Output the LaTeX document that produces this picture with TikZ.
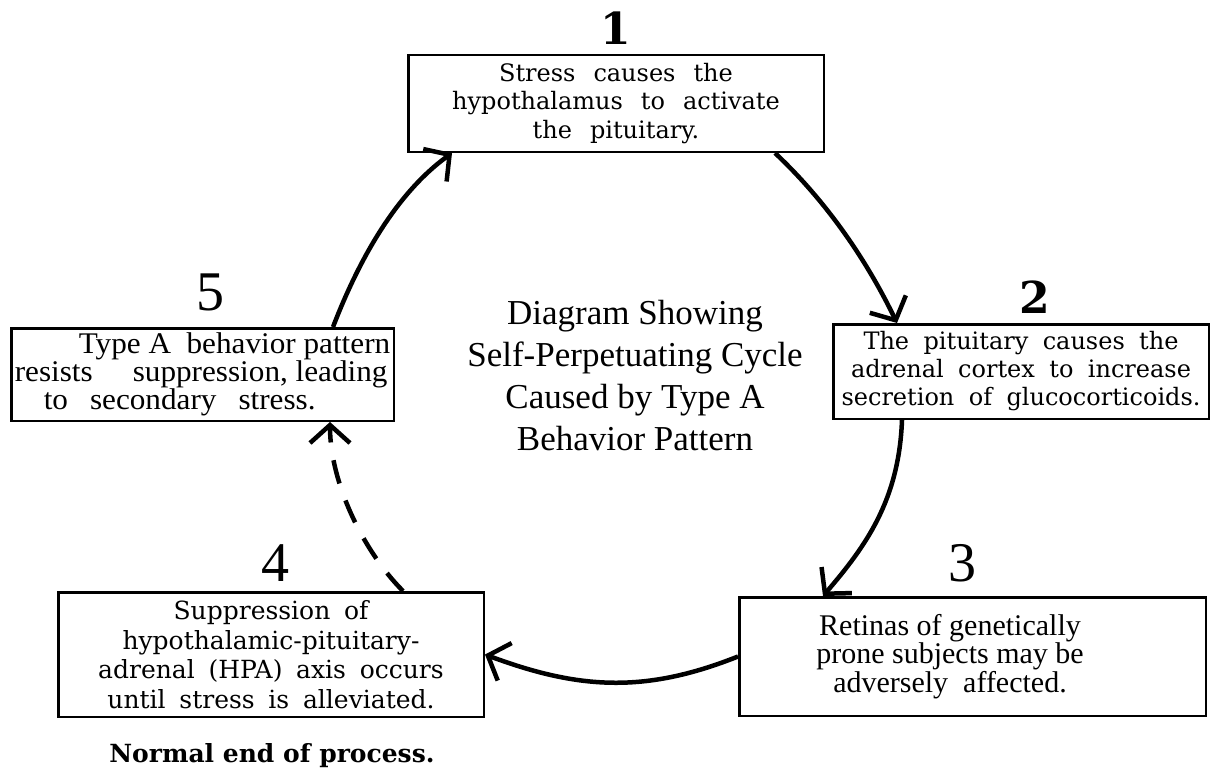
\documentclass[tikz,border=0pt]{standalone}
\usepackage{fontspec}
\setmainfont{Liberation Serif}
\newfontfamily\dvs{DejaVu Serif}
\newfontfamily\libwide[FakeStretch=1.04]{Liberation Serif}
\usetikzlibrary{arrows.meta}
\newcommand\fntOne{\dvs\fontsize{24}{28.5}\selectfont\spaceskip=0.75em\relax}
\newcommand\fntTwo{\dvs\fontsize{24}{28}\selectfont\spaceskip=0.6em\relax}
\newcommand\fntFour{\dvs\fontsize{25}{29.5}\selectfont\spaceskip=0.55em\relax}
\newcommand\fntLib{\fontsize{30}{28.5}\selectfont}
\newcommand\fntFive{\libwide\fontsize{30}{28}\selectfont}
\begin{document}
\begin{tikzpicture}[x=1pt,y=-1pt,
  box/.style={draw, line width=2.5pt, inner sep=0pt, align=center},
  numlab/.style={inner sep=0pt},
  link/.style={line width=4.5pt, -{Straight Barb[length=18pt,width=40pt]}},
  dashlink/.style={link, dash pattern=on 24pt off 18pt}]
\useasboundingbox[fill=white] (0,0) rectangle (1215,768);

% boxes
\node[box, minimum width=415.5pt, minimum height=96.5pt, font=\fntOne] (b1) at (616,103.5)
  {Stress causes the\\hypothalamus to activate\\the pituitary.};
\node[box, minimum width=375.5pt, minimum height=94.5pt, font=\fntTwo] (b2) at (1021,371.5)
  {The pituitary causes the\\adrenal cortex to increase\\secretion of glucocorticoids.};
\node[box, minimum width=466.5pt, minimum height=118.5pt] (b3) at (972.5,656.5) {};
\node[align=center, inner sep=0pt, font=\fntLib] (t3) at (950,656.5)
  {Retinas of genetically\\prone subjects may be\\adversely\ \ affected.};
\node[box, minimum width=425.5pt, minimum height=124.5pt, font=\fntFour] (b4) at (271,654.5)
  {Suppression of\\hypothalamic-pituitary-\\adrenal (HPA) axis occurs\\until stress is alleviated.};
\node[box, minimum width=382.5pt, minimum height=92.5pt, font=\fntFive, align=left] (b5) at (202.5,374.5)
  {\hspace*{64pt}Type A\ \ behavior pattern\\resists\hspace{40pt}suppression, leading\\\hspace*{29pt}to\hspace{22pt}secondary\hspace{22pt}stress.};

% numbers
\node[numlab, font=\dvs\bfseries\fontsize{44}{44}\selectfont] (n1) at (616,28.5) {1};
\node[numlab, font=\dvs\bfseries\fontsize{44}{44}\selectfont] (n2) at (1035,297.5) {2};
\node[numlab, font=\fontsize{56}{56}\selectfont] (n3) at (962,563) {3};
\node[numlab, font=\fontsize{56}{56}\selectfont] (n4) at (275,563) {4};
\node[numlab, font=\fontsize{56}{56}\selectfont] (n5) at (210,292) {5};

% title
\node[align=center, inner sep=0pt, font=\fontsize{35}{42}\selectfont] (title) at (635,376)
  {Diagram Showing\\Self-Perpetuating Cycle\\Caused by Type A\\Behavior Pattern};

% note
\node[anchor=base, inner sep=0pt, font=\dvs\bfseries\fontsize{25}{28}\selectfont] (note) at (272,762)
  {Normal end of process.};

% connectors
\draw[link] ([xshift=159pt]b1.south) .. controls +(51,48) and +(-31,-64) .. ([xshift=-124pt]b2.north);
\draw[link] ([xshift=-119pt]b2.south) .. controls +(-3,80) and +(43,-50) .. ([xshift=-149.5pt]b3.north);
\draw[link] (b3.west) .. controls +(-93,37) and +(94,35) .. (b4.east);
\draw[dashlink] ([xshift=132pt]b4.north) .. controls +(-40,-40) and +(0,60) .. ([xshift=127.5pt]b5.south);
\draw[link] ([xshift=130.5pt]b5.north) .. controls +(25,-65) and +(-57,41) .. ([xshift=-164pt]b1.south);
\end{tikzpicture}
\end{document}
